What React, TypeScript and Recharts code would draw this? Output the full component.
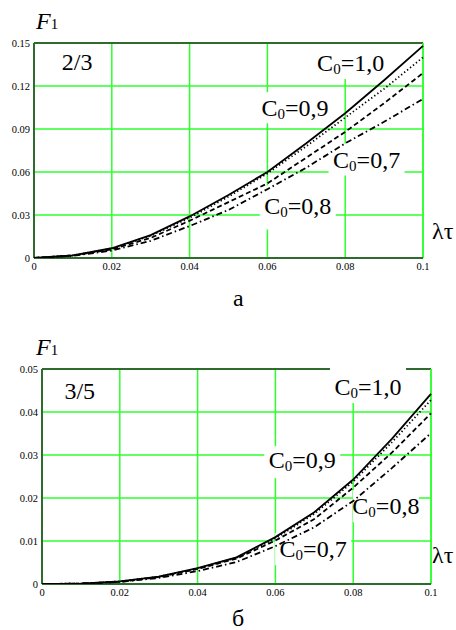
import React from "react";
import {
  LineChart,
  Line,
  XAxis,
  YAxis,
  CartesianGrid,
  ReferenceDot,
  ReferenceLine,
} from "recharts";

// λτ grid shared by both panels
const LAMBDA = [0, 0.01, 0.02, 0.03, 0.04, 0.05, 0.06, 0.07, 0.08, 0.09, 0.1];
const X_TICKS = [0, 0.02, 0.04, 0.06, 0.08, 0.1];

// panel a (2/3)
const A_C10 = [0, 0.0018, 0.0068, 0.016, 0.029, 0.044, 0.06, 0.08, 0.101, 0.124, 0.148];
const A_C09 = [0, 0.0018, 0.0066, 0.0155, 0.028, 0.0428, 0.059, 0.078, 0.098, 0.118, 0.14];
const A_C08 = [0, 0.0017, 0.006, 0.014, 0.026, 0.039, 0.052, 0.07, 0.088, 0.108, 0.129];
const A_C07 = [0, 0.0015, 0.0052, 0.012, 0.0223, 0.0335, 0.048, 0.063, 0.08, 0.095, 0.111];
const A_Y_TICKS = [0, 0.03, 0.06, 0.09, 0.12, 0.15];

// panel б (3/5)
const B_C10 = [0, 0.0001, 0.0006, 0.0017, 0.0037, 0.0062, 0.0109, 0.0167, 0.0243, 0.0338, 0.0442];
const B_C09 = [0, 0.0001, 0.0006, 0.0017, 0.0036, 0.0061, 0.0106, 0.0163, 0.0238, 0.033, 0.0428];
const B_C08 = [0, 0.0001, 0.0005, 0.0016, 0.0035, 0.0059, 0.0101, 0.0151, 0.0224, 0.0306, 0.0397];
const B_C07 = [0, 0.0001, 0.0005, 0.0014, 0.003, 0.0051, 0.0088, 0.0132, 0.0193, 0.027, 0.0351];
const B_Y_TICKS = [0, 0.01, 0.02, 0.03, 0.04, 0.05];

const dataA = LAMBDA.map((x, i) => ({ x, c10: A_C10[i], c09: A_C09[i], c08: A_C08[i], c07: A_C07[i] }));
const dataB = LAMBDA.map((x, i) => ({ x, c10: B_C10[i], c09: B_C09[i], c08: B_C08[i], c07: B_C07[i] }));

const SERIF = "'Liberation Serif', 'Times New Roman', serif";
const GRID = "#2cff2c";
const FRAME = "#2f6a2f";
const W = 456;
const H = 275;
const TOP = 43;
const XH = 17;

const LINES = [
  { key: "c10", dash: undefined },
  { key: "c09", dash: "1.3 2.5" },
  { key: "c08", dash: "5 3" },
  { key: "c07", dash: "6 3 1.5 3" },
];

const fmt = (v: number) => (v === 0 ? "0" : String(v));
const tick = { fill: "#000", fontSize: 10.5, fontFamily: SERIF };

function CLabel(props: any) {
  const { cx, cy, value, w = 76, top = -16, h = 32 } = props;
  return (
    <g>
      <rect x={cx - w / 2} y={cy + top} width={w} height={h} fill="#fff" />
      <text x={cx} y={cy + 8} textAnchor="middle" fontFamily={SERIF} fontSize={24} fill="#000">
        C<tspan fontSize={15} dy={3}>0</tspan>
        <tspan dy={-3}>={value}</tspan>
      </text>
    </g>
  );
}

function Plain(props: any) {
  const { cx, cy, value } = props;
  return (
    <text x={cx} y={cy + 8} textAnchor="middle" fontFamily={SERIF} fontSize={24} fill="#000">
      {value}
    </text>
  );
}

// grid + labels underneath, curves on a second chart stacked on top
function Panel({ data, yMax, yTicks, yWidth, right, labels }: any) {
  return (
    <div style={{ position: "relative", width: W, height: H }}>
      <div style={{ position: "absolute", left: 0, top: 0 }}>
        <LineChart width={W} height={H} data={data} margin={{ top: TOP, right, left: 0, bottom: 0 }}>
          <CartesianGrid stroke={GRID} strokeWidth={1.5} />
          <XAxis
            type="number"
            dataKey="x"
            domain={[0, 0.1]}
            ticks={X_TICKS}
            tickFormatter={fmt}
            tick={tick}
            tickLine={false}
            tickSize={0}
            tickMargin={5}
            height={XH}
            axisLine={{ stroke: FRAME, strokeWidth: 2 }}
          />
          <YAxis
            type="number"
            domain={[0, yMax]}
            ticks={yTicks}
            tickFormatter={fmt}
            tick={tick}
            tickLine={false}
            tickSize={0}
            tickMargin={4}
            width={yWidth}
            allowDataOverflow
            axisLine={{ stroke: FRAME, strokeWidth: 2 }}
          />
          <ReferenceLine y={yMax} stroke={FRAME} strokeWidth={2} />
          <ReferenceLine x={0.1} stroke={GRID} strokeWidth={1.5} />
          {labels}
        </LineChart>
      </div>
      <div style={{ position: "absolute", left: 0, top: 0 }}>
        <LineChart width={W} height={H} data={data} margin={{ top: TOP, right, left: yWidth, bottom: XH }}>
          <XAxis type="number" dataKey="x" domain={[0, 0.1]} hide />
          <YAxis type="number" domain={[0, yMax]} allowDataOverflow hide />
          {LINES.map((l) => (
            <Line
              key={l.key}
              dataKey={l.key}
              type="linear"
              stroke="#000"
              strokeWidth={1.8}
              strokeDasharray={l.dash}
              dot={false}
              isAnimationActive={false}
            />
          ))}
        </LineChart>
      </div>
    </div>
  );
}

const outer: React.CSSProperties = { position: "absolute", fontFamily: SERIF, fontSize: 24, lineHeight: "24px", whiteSpace: "nowrap" };

function F1({ top }: { top: number }) {
  return (
    <span style={{ ...outer, left: 36, top }}>
      <i>F</i>
      <span style={{ fontSize: 15 }}>1</span>
    </span>
  );
}

export default function App() {
  const labelsA = [
    <ReferenceDot key="r" x={0.0111} y={0.137} r={0} ifOverflow="visible" shape={(p: any) => <Plain {...p} value="2/3" />} />,
    <ReferenceDot key="a1" x={0.0814} y={0.136} r={0} ifOverflow="visible" shape={(p: any) => <CLabel {...p} value="1,0" top={-19} h={35} />} />,
    <ReferenceDot key="a2" x={0.0671} y={0.1045} r={0} ifOverflow="visible" shape={(p: any) => <CLabel {...p} value="0,9" h={31} />} />,
    <ReferenceDot key="a3" x={0.0855} y={0.0687} r={0} ifOverflow="visible" shape={(p: any) => <CLabel {...p} value="0,7" />} />,
    <ReferenceDot key="a4" x={0.0678} y={0.036} r={0} ifOverflow="visible" shape={(p: any) => <CLabel {...p} value="0,8" top={-21} h={44} />} />,
  ];
  const labelsB = [
    <ReferenceDot key="r" x={0.0097} y={0.0449} r={0} ifOverflow="visible" shape={(p: any) => <Plain {...p} value="3/5" />} />,
    <ReferenceDot key="b1" x={0.0838} y={0.0458} r={0} ifOverflow="visible" shape={(p: any) => <CLabel {...p} value="1,0" top={-20} h={36} />} />,
    <ReferenceDot key="b2" x={0.0669} y={0.0288} r={0} ifOverflow="visible" shape={(p: any) => <CLabel {...p} value="0,9" top={-14} h={32} />} />,
    <ReferenceDot key="b3" x={0.0884} y={0.0181} r={0} ifOverflow="visible" shape={(p: any) => <CLabel {...p} value="0,8" w={66} />} />,
    <ReferenceDot key="b4" x={0.0697} y={0.0081} r={0} ifOverflow="visible" shape={(p: any) => <CLabel {...p} value="0,7" />} />,
  ];
  return (
    <div style={{ position: "relative", width: 456, height: 630, background: "#fff", overflow: "hidden", fontFamily: SERIF }}>
      <style>{`body{margin:0}`}</style>
      <div style={{ position: "absolute", left: 0, top: 0 }}>
        <Panel data={dataA} yMax={0.15} yTicks={A_Y_TICKS} yWidth={34} right={33} labels={labelsA} />
      </div>
      <div style={{ position: "absolute", left: 0, top: 326 }}>
        <Panel data={dataB} yMax={0.05} yTicks={B_Y_TICKS} yWidth={42} right={25} labels={labelsB} />
      </div>
      <F1 top={9} />
      <F1 top={335} />
      <span style={{ ...outer, left: 432, top: 219 }}>λτ</span>
      <span style={{ ...outer, left: 432, top: 543 }}>λτ</span>
      <span style={{ ...outer, left: 233, top: 286 }}>а</span>
      <span style={{ ...outer, left: 232, top: 606 }}>б</span>
    </div>
  );
}
